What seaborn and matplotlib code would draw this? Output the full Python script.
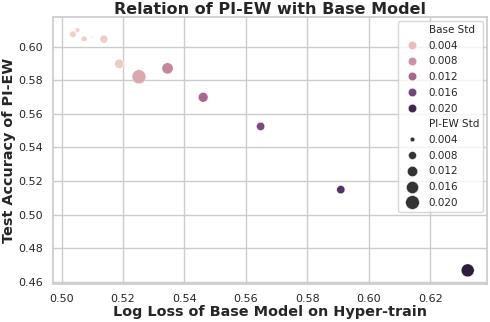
import matplotlib
matplotlib.use("Agg")
import matplotlib.pyplot as plt
import seaborn as sns
import pandas as pd

log_loss = [0.5037, 0.5052, 0.5074, 0.5100, 0.5138, 0.5188, 0.5252, 0.5345, 0.5461, 0.5648, 0.5909, 0.6322]
test_acc = [0.6073, 0.6097, 0.6046, 0.6055, 0.6044, 0.5897, 0.5820, 0.5870, 0.5698, 0.5525, 0.5149, 0.4669]
base_std = [0.0025, 0.0026, 0.0025, 0.0025, 0.0028, 0.0030, 0.0060, 0.0090, 0.0120, 0.0155, 0.0185, 0.0215]
piew_std = [0.0060, 0.0040, 0.0050, 0.0022, 0.0080, 0.0100, 0.0205, 0.0140, 0.0110, 0.0085, 0.0085, 0.0180]

df = pd.DataFrame({
    "Log Loss": log_loss,
    "Test Accuracy": test_acc,
    "Base Std": base_std,
    "PI-EW Std": piew_std,
})

sns.set_theme(style="whitegrid")
fig = plt.figure(figsize=(4.9, 3.22), dpi=100)
ax = fig.add_axes([0.108, 0.118, 0.886, 0.829])
sns.scatterplot(data=df, x="Log Loss", y="Test Accuracy", hue="Base Std",
                size="PI-EW Std", sizes=(1, 100), ax=ax)
ax.set_xlim(0.4972, 0.6385)
ax.set_ylim(0.4588, 0.6175)
ax.set_title("Relation of PI-EW with Base Model", fontsize=11.5, fontweight="bold", pad=2)
ax.set_xlabel("Log Loss of Base Model on Hyper-train", fontsize=10.4, fontweight="bold", labelpad=1)
ax.set_ylabel("Test Accuracy of PI-EW", fontsize=10.4, fontweight="bold", labelpad=2)
ax.tick_params(axis="both", labelsize=8, pad=1)
leg = ax.legend(loc="upper right", fontsize=7.5, frameon=True, labelspacing=0.55,
                handletextpad=0.6, borderpad=0.4, borderaxespad=0.35)
fig.savefig("out.png", dpi=100)
